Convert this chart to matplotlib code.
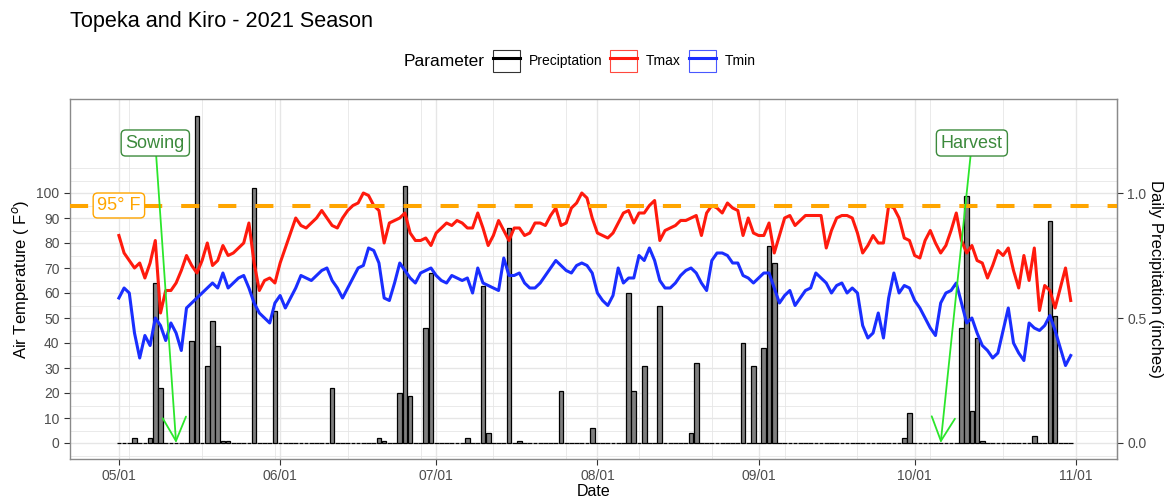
import numpy as np
import pandas as pd
import matplotlib
matplotlib.use("Agg")
import matplotlib.pyplot as plt
import matplotlib.dates as mdates
from matplotlib.patches import Rectangle
from matplotlib.lines import Line2D

plt.rcParams["font.family"] = ["Liberation Sans", "DejaVu Sans"]

# ── data ─────────────────────────────────────────────────────────────────────
SEASON_START = "2021-05-01"
SEASON_END = "2021-10-31"

tmax = [83, 76, 73, 70, 72, 66, 72, 81, 52, 61, 61, 64, 69, 75, 71, 68, 73, 80, 71, 73,
        79, 75, 76, 78, 80, 88, 72, 61, 65, 66, 64, 72, 78, 84, 90, 87, 86, 88, 90, 93,
        90, 87, 86, 90, 93, 95, 96, 100, 99, 95, 93, 80, 88, 89, 90, 92, 84, 81, 81, 82,
        79, 84, 86, 88, 87, 89, 88, 86, 86, 92, 86, 79, 83, 89, 85, 81, 86, 86, 83, 84,
        88, 88, 87, 91, 94, 87, 88, 94, 96, 100, 98, 90, 84, 83, 82, 84, 88, 92, 93, 88,
        92, 92, 95, 97, 81, 85, 86, 87, 89, 89, 90, 91, 83, 92, 95, 94, 92, 96, 94, 93,
        83, 90, 84, 83, 83, 88, 76, 83, 90, 91, 87, 89, 91, 91, 91, 91, 78, 85, 90, 91,
        91, 90, 84, 76, 79, 83, 80, 80, 95, 94, 90, 82, 81, 75, 74, 81, 85, 80, 76, 79,
        85, 92, 81, 76, 79, 73, 72, 66, 71, 77, 75, 78, 69, 62, 75, 65, 78, 53, 63, 61,
        54, 62, 70, 57]

tmin = [58, 62, 60, 44, 34, 43, 39, 50, 47, 41, 48, 44, 37, 54, 56, 58, 60, 62, 64, 62,
        68, 62, 64, 66, 67, 62, 56, 52, 50, 48, 56, 59, 54, 58, 62, 67, 66, 65, 67, 69,
        70, 65, 62, 58, 62, 66, 70, 71, 78, 77, 72, 58, 57, 64, 72, 69, 66, 64, 68, 69,
        70, 67, 65, 64, 67, 66, 65, 66, 60, 70, 64, 63, 62, 61, 74, 67, 67, 68, 64, 62,
        62, 64, 67, 70, 73, 71, 69, 68, 71, 72, 71, 68, 60, 57, 55, 59, 70, 64, 66, 66,
        75, 73, 78, 73, 65, 62, 62, 64, 67, 69, 70, 68, 64, 61, 73, 76, 76, 75, 72, 72,
        67, 66, 64, 66, 68, 68, 62, 56, 59, 61, 55, 58, 61, 62, 68, 66, 64, 60, 63, 64,
        60, 62, 60, 47, 42, 44, 52, 42, 58, 68, 60, 63, 62, 57, 54, 50, 46, 43, 56, 60,
        61, 64, 56, 48, 50, 44, 39, 37, 34, 36, 45, 54, 40, 36, 33, 48, 46, 45, 47, 51,
        45, 38, 31, 35]

# rainy days (days after May 1) and daily precipitation in inches
rain_day = [3, 6, 7, 8, 14, 15, 17, 18, 19, 20, 21, 26, 30, 41, 50, 51, 54, 55, 56, 59,
            60, 67, 70, 71, 75, 77, 85, 91, 98, 99, 101, 104, 110, 111, 120, 122, 124,
            125, 126, 151, 152, 162, 163, 164, 165, 166, 176, 179, 180]
rain_in = [0.02, 0.02, 0.64, 0.22, 0.41, 1.31, 0.31, 0.49, 0.39, 0.01, 0.01, 1.02, 0.53,
           0.22, 0.02, 0.01, 0.20, 1.03, 0.19, 0.46, 0.68, 0.02, 0.63, 0.04, 0.86, 0.01,
           0.21, 0.06, 0.60, 0.21, 0.31, 0.55, 0.04, 0.32, 0.40, 0.31, 0.38, 0.79, 0.72,
           0.02, 0.12, 0.46, 0.99, 0.13, 0.42, 0.01, 0.03, 0.89, 0.51]

HEAT_LIMIT = 95
SOWING_LABEL = "2021-05-08"
SOWING_DATE = "2021-05-12"
HARVEST_LABEL = "2021-10-12"
HARVEST_DATE = "2021-10-06"
LABEL_Y = 120

# ── styling ──────────────────────────────────────────────────────────────────
RED = "#FF1A0D"
BLUE = "#1A2EFF"
ORANGE = "#FFA500"
GREEN_TXT = "#3C8A3C"
LIME = "#2BE62B"
GRID = "#E6E6E6"
DPI = 100

dates = pd.date_range(SEASON_START, SEASON_END, freq="D")
precip = np.zeros(len(dates))
precip[rain_day] = rain_in
start = pd.Timestamp(SEASON_START)

fig = plt.figure(figsize=(11.74, 4.99), dpi=DPI)
ax = fig.add_axes([70 / 1174, 1 - 459 / 499, (1117 - 70) / 1174, (459 - 99) / 499])

# grid
for v in range(0, 101, 10):
    ax.axhline(v, color=GRID, lw=1.0, zorder=0)
for v in range(-5, 111, 10):
    ax.axhline(v, color=GRID, lw=0.6, zorder=0)
ax.axhline(110, color=GRID, lw=0.6, zorder=0)
for d in pd.date_range("2021-05-01", "2021-11-01", freq="MS"):
    ax.axvline(d, color=GRID, lw=1.0, zorder=0)
for d in pd.date_range("2021-05-03", "2021-11-01", freq="14D"):
    ax.axvline(d, color=GRID, lw=0.6, zorder=0)

# precipitation bars (scaled x100 onto the temperature axis)
ax.bar(dates, precip * 100, width=0.9, color="#7F7F7F", edgecolor="black",
       linewidth=0.9, zorder=2)

ax.plot(dates, tmax, color=RED, lw=2.2, zorder=3)
ax.plot(dates, tmin, color=BLUE, lw=2.2, zorder=3)

ax.axhline(HEAT_LIMIT, color=ORANGE, lw=2.9, dashes=(4.5, 4.7), zorder=4)
ax.text(start, HEAT_LIMIT, "95° F", color=ORANGE, fontsize=13, ha="center",
        va="center", zorder=6,
        bbox=dict(boxstyle="round,pad=0.22,rounding_size=0.25", fc="white",
                  ec=ORANGE, lw=1.0))

# sowing / harvest arrows
for lab, lab_date, tip_date in [("Sowing", SOWING_LABEL, SOWING_DATE),
                                ("Harvest", HARVEST_LABEL, HARVEST_DATE)]:
    ax.annotate("", xy=(pd.Timestamp(tip_date), 0),
                xytext=(pd.Timestamp(lab_date), LABEL_Y),
                arrowprops=dict(arrowstyle="->,head_length=0.85,head_width=0.42",
                                color=LIME, lw=1.3, mutation_scale=20,
                                shrinkA=0, shrinkB=0), zorder=5)
    ax.text(pd.Timestamp(lab_date), LABEL_Y, lab, color=GREEN_TXT, fontsize=13,
            ha="center", va="center", zorder=6,
            bbox=dict(boxstyle="round,pad=0.25,rounding_size=0.25", fc="white",
                      ec=GREEN_TXT, lw=1.0))

# axes
ax.set_xlim(start - pd.Timedelta(days=9.4), start + pd.Timedelta(days=191.9))
ax.set_ylim(-6.4, 137.6)
ax.set_yticks(range(0, 101, 10))
ax.xaxis.set_major_locator(mdates.MonthLocator())
ax.xaxis.set_major_formatter(mdates.DateFormatter("%m/%d"))
ax.tick_params(colors="#333333", labelcolor="#4D4D4D", labelsize=10, length=4,
               width=0.8)
for s in ax.spines.values():
    s.set_color("#8A8A8A")
    s.set_linewidth(1.0)
ax.set_ylabel("Air Temperature ( F$^{o}$)", fontsize=12, labelpad=4)
ax.set_xlabel("Date", fontsize=11.5, labelpad=0.5)

ax2 = ax.secondary_yaxis("right", functions=(lambda v: v / 100, lambda v: v * 100))
ax2.set_yticks([0.0, 0.5, 1.0])
ax2.set_yticklabels(["0.0", "0.5", "1.0"])
ax2.tick_params(colors="#333333", labelcolor="#4D4D4D", labelsize=10, length=4,
                width=0.8)
ax2.spines["right"].set_color("#8A8A8A")
ax2.set_ylabel("Daily Precipitation (inches)", fontsize=12, rotation=270, labelpad=12)

# title + legend
fig.text(70 / 1174, 1 - 21 / 499, "Topeka and Kiro - 2021 Season", fontsize=15.6,
         ha="left", va="center")
fig.text(404 / 1174, 1 - 61 / 499, "Parameter", fontsize=12.5, ha="left", va="center")

handles = []
for c in ["black", RED, BLUE]:
    box = Rectangle((0, 0), 1, 1, fc="white", ec=c, lw=0.8, alpha=0.8)
    ln = Line2D([], [], color=c, lw=2.2)
    handles.append((box, ln))
fig.legend(handles, ["Preciptation", "Tmax", "Tmin"], ncol=3, frameon=False,
           fontsize=10, loc="center left", bbox_to_anchor=(493 / 1174, 1 - 61 / 499),
           handlelength=1.95, handleheight=1.95, handletextpad=0.6,
           columnspacing=0.6, borderpad=0, borderaxespad=0)

fig.savefig("out.png", dpi=DPI)
